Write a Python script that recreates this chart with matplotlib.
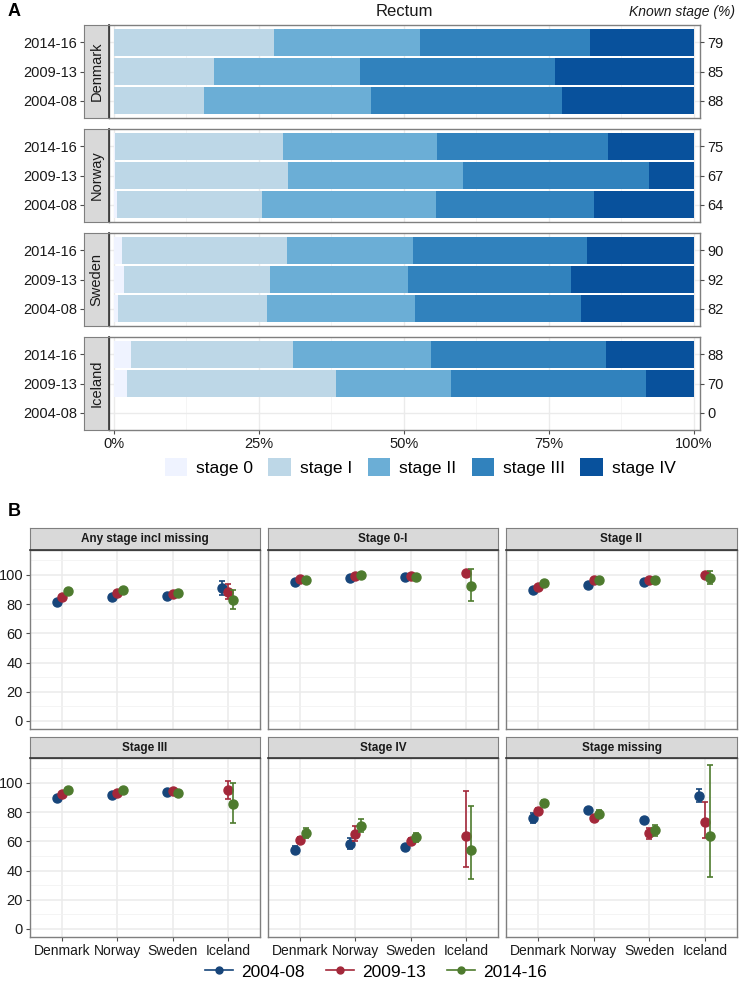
import numpy as np
import matplotlib
matplotlib.use("Agg")
import matplotlib.pyplot as plt
from matplotlib.patches import Rectangle
from matplotlib.lines import Line2D

plt.rcParams['font.family'] = ['Liberation Sans', 'DejaVu Sans']

# ---------------- Data: panel A ----------------
countries = ["Denmark", "Norway", "Sweden", "Iceland"]
periods = ["2004-08", "2009-13", "2014-16"]
stages = ["stage 0", "stage I", "stage II", "stage III", "stage IV"]
stage_colors = ["#eff3ff", "#bdd7e7", "#6baed6", "#3182bd", "#08519c"]

# stage distribution (%) per country, rows = periods 2004-08, 2009-13, 2014-16
dist_denmark = [[0.0, 15.6, 28.7, 33.0, 22.7],
                [0.0, 17.3, 25.2, 33.6, 23.9],
                [0.0, 27.7, 25.2, 29.3, 17.8]]
dist_norway = [[0.5, 25.0, 30.0, 27.4, 17.1],
               [0.2, 29.8, 30.3, 32.0, 7.7],
               [0.2, 29.0, 26.6, 29.5, 14.7]]
dist_sweden = [[0.7, 25.7, 25.5, 28.6, 19.5],
               [1.8, 25.1, 23.8, 28.1, 21.2],
               [1.5, 28.4, 21.8, 30.0, 18.3]]
dist_iceland = [[0.0, 0.0, 0.0, 0.0, 0.0],
                [2.3, 36.0, 19.9, 33.6, 8.2],
                [3.0, 27.9, 23.8, 30.2, 15.1]]
known_denmark = [88, 85, 79]
known_norway = [64, 67, 75]
known_sweden = [82, 92, 90]
known_iceland = [0, 70, 88]

dists = [dist_denmark, dist_norway, dist_sweden, dist_iceland]
knowns = [known_denmark, known_norway, known_sweden, known_iceland]

# ---------------- Data: panel B ----------------
nan = np.nan
panel_titles = ["Any stage incl missing", "Stage 0-I", "Stage II",
                "Stage III", "Stage IV", "Stage missing"]
period_colors = ["#17457a", "#a3283a", "#4e7b2e"]

any_est = [[81.7, 84.9, 85.3, 90.8], [84.9, 87.8, 86.9, 88.5], [89.2, 89.9, 87.8, 83.0]]
any_lo = [[80.7, 83.9, 84.3, 86.2], [83.9, 86.8, 85.9, 83.7], [88.2, 88.9, 86.8, 76.8]]
any_hi = [[82.7, 85.9, 86.3, 95.9], [85.9, 88.8, 87.9, 93.8], [90.2, 90.9, 88.8, 89.7]]

s01_est = [[95.4, 97.7, 98.6, nan], [97.0, 98.9, 99.5, 101.4], [96.8, 99.8, 98.6, 92.7]]
s01_lo = [[94.4, 96.7, 97.8, nan], [96.0, 97.9, 98.7, 101.4], [95.8, 98.8, 97.8, 82.3]]
s01_hi = [[96.4, 98.7, 99.4, nan], [98.0, 99.9, 100.3, 101.4], [97.8, 100.8, 99.4, 103.9]]

s2_est = [[89.9, 93.1, 95.2, nan], [92.0, 96.8, 96.3, 100.2], [94.3, 96.6, 96.6, 97.9]]
s2_lo = [[88.7, 91.9, 94.2, nan], [90.8, 95.6, 95.3, 100.2], [93.1, 95.4, 95.6, 93.6]]
s2_hi = [[91.1, 94.3, 96.2, nan], [93.2, 98.0, 97.3, 100.2], [95.5, 97.8, 97.6, 102.3]]

s3_est = [[89.7, 91.6, 93.8, nan], [92.7, 92.9, 94.3, 94.8], [95.0, 94.8, 93.2, 85.2]]
s3_lo = [[88.5, 90.4, 92.8, nan], [91.5, 91.7, 93.3, 88.6], [93.8, 93.6, 92.2, 72.4]]
s3_hi = [[90.9, 92.8, 94.8, nan], [93.9, 94.1, 95.3, 101.4], [96.2, 96.0, 94.2, 100.0]]

s4_est = [[54.2, 58.3, 55.8, nan], [61.0, 65.1, 60.1, 63.3], [65.6, 70.6, 62.6, 54.0]]
s4_lo = [[51.9, 54.7, 54.0, nan], [58.8, 60.1, 58.2, 42.6], [62.0, 66.5, 59.7, 34.2]]
s4_hi = [[56.7, 62.4, 57.6, nan], [63.1, 70.4, 62.0, 94.1], [69.2, 75.2, 65.6, 84.3]]

smiss_est = [[76.1, 81.3, 74.5, 91.1], [80.9, 75.9, 65.4, 73.3], [86.3, 78.8, 67.4, 63.3]]
smiss_lo = [[72.7, 80.1, 73.3, 87.0], [78.4, 74.7, 61.5, 62.0], [84.5, 76.5, 63.3, 35.3]]
smiss_hi = [[79.3, 82.5, 75.7, 95.7], [82.9, 77.1, 69.2, 87.0], [88.4, 81.1, 71.1, 112.3]]

panels_B = [(any_est, any_lo, any_hi), (s01_est, s01_lo, s01_hi), (s2_est, s2_lo, s2_hi),
            (s3_est, s3_lo, s3_hi), (s4_est, s4_lo, s4_hi), (smiss_est, smiss_lo, smiss_hi)]

# ---------------- Figure ----------------
W, H = 739, 986
fig = plt.figure(figsize=(W / 100, H / 100), dpi=100)

def ax_px(x0, y0, x1, y1, **kw):
    return fig.add_axes([x0 / W, 1 - y1 / H, (x1 - x0) / W, (y1 - y0) / H], **kw)

GRID = "#ebebeb"
BORDER = "#7f7f7f"
TXT = "#1a1a1a"
TICKC = "#4d4d4d"

fig.text(8 / W, 1 - 12 / H, "A", fontsize=13, fontweight="bold", va="center", ha="left")
fig.text(404 / W, 1 - 12 / H, "Rectum", fontsize=12, va="center", ha="center", color=TXT)
fig.text(735 / W, 1 - 12 / H, "Known stage (%)", fontsize=10, style="italic",
         va="center", ha="right", color=TXT)

tops = [25, 129, 233, 337]
fh = 93
for ci, (country, dist, known) in enumerate(zip(countries, dists, knowns)):
    top = tops[ci]
    ax = ax_px(109, top, 700, top + fh)
    ax.set_xlim(-0.8, 101.1)
    ax.set_ylim(0.4, 3.6)
    ypos = np.arange(1, len(periods) + 1)
    d = np.array(dist)
    left = np.zeros(len(periods))
    for si in range(len(stages)):
        ax.barh(ypos, d[:, si], left=left, height=0.9, color=stage_colors[si],
                edgecolor="none", zorder=2)
        left = left + d[:, si]
    ax.set_xticks([0, 25, 50, 75, 100])
    ax.set_xticks([12.5, 37.5, 62.5, 87.5], minor=True)
    ax.grid(True, which="major", color=GRID, lw=1.0, zorder=0)
    ax.grid(True, which="minor", axis="x", color="#f4f4f4", lw=0.6, zorder=0)
    ax.set_axisbelow(True)
    ax.set_yticks(ypos)
    ax.tick_params(axis="y", length=0, labelleft=False)
    ax.tick_params(axis="x", which="minor", length=0)
    for s in ax.spines.values():
        s.set_color(BORDER)
        s.set_linewidth(1.0)
    if ci == len(countries) - 1:
        ax.set_xticklabels(["0%", "25%", "50%", "75%", "100%"], fontsize=10.5, color=TXT)
        ax.tick_params(axis="x", length=3, color=TICKC, pad=2)
    else:
        ax.tick_params(axis="x", length=0, labelbottom=False)
    ax2 = ax.twinx()
    ax2.set_ylim(ax.get_ylim())
    ax2.set_yticks(ypos)
    ax2.set_yticklabels([str(k) for k in known], fontsize=10.5, color=TXT)
    ax2.tick_params(axis="y", length=3, color=TICKC, pad=2)
    for s in ax2.spines.values():
        s.set_visible(False)
    # strip (carries the period tick labels on its left)
    sax = ax_px(84, top, 109, top + fh)
    sax.set_xticks([])
    sax.set_ylim(ax.get_ylim())
    sax.set_yticks(ypos)
    sax.set_yticklabels(periods, fontsize=10.5, color=TXT)
    sax.tick_params(axis="y", length=3, color=TICKC, pad=2)
    sax.set_facecolor("#d9d9d9")
    for s in sax.spines.values():
        s.set_color(BORDER)
    sax.spines["right"].set_color("#333333")
    sax.spines["right"].set_linewidth(1.2)
    sax.text(0.5, 0.5, country, rotation=90, ha="center", va="center",
             fontsize=10.5, color=TXT, transform=sax.transAxes)

# legend A
handles_A = [Rectangle((0, 0), 1, 1, facecolor=c, edgecolor="none") for c in stage_colors]
fig.legend(handles_A, stages, loc="center", bbox_to_anchor=(420 / W, 1 - 467 / H),
           ncol=5, frameon=False, fontsize=12.5, handlelength=1.3, handleheight=1.3,
           handletextpad=0.5, columnspacing=0.9)

# ---------------- Panel B ----------------
fig.text(8 / W, 1 - 512 / H, "B", fontsize=13, fontweight="bold", va="center", ha="left")
cols = [(30, 260), (268, 498), (506, 737)]
rows = [(528, 550, 729), (737, 758, 937)]
offsets = [-0.1, 0.0, 0.1]
xcat = np.arange(1, len(countries) + 1)
for pi, (title, (est, lo, hi)) in enumerate(zip(panel_titles, panels_B)):
    r, c = divmod(pi, 3)
    x0, x1 = cols[c]
    st, pt, pb = rows[r]
    ax = ax_px(x0, pt, x1, pb)
    ax.set_xlim(0.42, 4.58)
    ax.set_ylim(-5.5, 117)
    ax.set_yticks([0, 20, 40, 60, 80, 100])
    ax.set_yticks([10, 30, 50, 70, 90, 110], minor=True)
    ax.set_xticks(xcat)
    ax.grid(True, which="major", color=GRID, lw=1.1, zorder=0)
    ax.grid(True, which="minor", axis="y", color="#f2f2f2", lw=0.6, zorder=0)
    ax.set_axisbelow(True)
    ax.tick_params(axis="both", which="minor", length=0)
    ax.tick_params(axis="both", which="major", length=3, color=TICKC, pad=2, labelsize=10.5,
                   labelcolor=TXT)
    if c != 0:
        ax.tick_params(axis="y", length=0, labelleft=False)
    if r == 0:
        ax.tick_params(axis="x", length=0, labelbottom=False)
    else:
        ax.set_xticklabels(countries, fontsize=10)
    for s in ax.spines.values():
        s.set_color(BORDER)
        s.set_linewidth(1.0)
    e = np.array(est); l = np.array(lo); h = np.array(hi)
    for k in range(len(periods)):
        xs = xcat + offsets[k]
        ax.errorbar(xs, e[k], yerr=[e[k] - l[k], h[k] - e[k]], fmt="o", color=period_colors[k],
                    ms=6.5, elinewidth=1.2, capsize=2.5, capthick=1.2, zorder=3 + k)
    # strip
    sax = ax_px(x0, st, x1, pt)
    sax.set_xticks([]); sax.set_yticks([])
    sax.set_facecolor("#d9d9d9")
    for s in sax.spines.values():
        s.set_color(BORDER)
    sax.spines["bottom"].set_color("#333333")
    sax.spines["bottom"].set_linewidth(1.2)
    sax.text(0.5, 0.5, title, ha="center", va="center", fontsize=8.5, fontweight="bold",
             color=TXT, transform=sax.transAxes)

handles_B = [Line2D([0], [0], color=col, marker="o", ms=5, lw=1.2) for col in period_colors]
fig.legend(handles_B, periods, loc="center", bbox_to_anchor=(376 / W, 1 - 972 / H),
           ncol=3, frameon=False, fontsize=12.5, handlelength=1.6, handletextpad=0.5,
           columnspacing=1.2)

fig.savefig("out.png", dpi=100)
